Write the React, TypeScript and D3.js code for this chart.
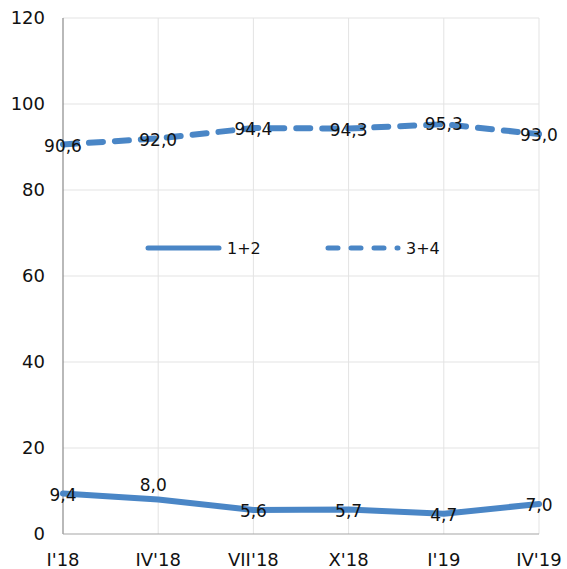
import React from "react";
import * as d3 from "d3";

const categories = ["I'18", "IV'18", "VII'18", "X'18", "I'19", "IV'19"];
const series12 = [9.4, 8.0, 5.6, 5.7, 4.7, 7.0];
const series34 = [90.6, 92.0, 94.4, 94.3, 95.3, 93.0];
const yTicks = [0, 20, 40, 60, 80, 100, 120];
const seriesNames = ["1+2", "3+4"];

const W = 567;
const H = 569;
const COLOR = "#4a86c6";
const SANS = "'DejaVu Sans', Verdana, sans-serif";

export default function App() {
  const x = d3.scalePoint<string>().domain(categories).range([63, 539]);
  const y = d3.scaleLinear().domain([0, 120]).range([534, 18]);
  const line = d3
    .line<number>()
    .x((_, i) => x(categories[i]) as number)
    .y((d) => y(d));

  const fmt = (v: number) => v.toFixed(1).replace(".", ",");
  // label offset tweaks (reference places 8,0 above the line)
  const offs12 = [[0, 1], [-5, -15], [0, 1], [0, 1], [0, 1], [0, 1]];
  const offs34 = [[0, 1], [0, 1], [0, 1], [0, 1], [0, 0], [0, 1]];

  return (
    <svg
      width={W}
      height={H}
      style={{ position: "absolute", left: 0, top: 0, display: "block", background: "#fff" }}
    >
      {/* gridlines */}
      {yTicks.filter((t) => t > 0).map((t) => (
        <line key={"hy" + t} x1={63} x2={539} y1={y(t)} y2={y(t)} stroke="#e3e3e3" strokeWidth={1} />
      ))}
      {categories.slice(1).map((c) => (
        <line key={"vx" + c} x1={x(c)} x2={x(c)} y1={y(120)} y2={y(0)} stroke="#e3e3e3" strokeWidth={1} />
      ))}
      {/* axes */}
      <line x1={63} x2={63} y1={y(120)} y2={y(0)} stroke="#8a8a8a" strokeWidth={1.2} />
      <line x1={63} x2={539} y1={y(0)} y2={y(0)} stroke="#a6a6a6" strokeWidth={1.2} />
      {/* y tick labels */}
      {yTicks.map((t) => (
        <text key={"yt" + t} x={45} y={y(t)} dy="0.36em" textAnchor="end" fontFamily={SANS} fontSize={18} fill="#111">
          {t}
        </text>
      ))}
      {/* x tick labels */}
      {categories.map((c) => (
        <text key={"xt" + c} x={x(c)} y={566} textAnchor="middle" fontFamily={SANS} fontSize={18} fill="#111">
          {c}
        </text>
      ))}
      {/* lines */}
      <path d={line(series34) || ""} fill="none" stroke={COLOR} strokeWidth={6} strokeDasharray="14,12" strokeLinecap="round" strokeLinejoin="round" />
      <path d={line(series12) || ""} fill="none" stroke={COLOR} strokeWidth={6} strokeLinecap="round" strokeLinejoin="round" />
      {/* data labels */}
      {series34.map((v, i) => (
        <text key={"l34" + i} x={(x(categories[i]) as number) + offs34[i][0]} y={y(v) + offs34[i][1]} dy="0.36em" textAnchor="middle" fontFamily={SANS} fontSize={17} fill="#111">
          {fmt(v)}
        </text>
      ))}
      {series12.map((v, i) => (
        <text key={"l12" + i} x={(x(categories[i]) as number) + offs12[i][0]} y={y(v) + offs12[i][1]} dy="0.36em" textAnchor="middle" fontFamily={SANS} fontSize={17} fill="#111">
          {fmt(v)}
        </text>
      ))}
      {/* legend */}
      <line x1={148} x2={219} y1={248} y2={248} stroke={COLOR} strokeWidth={5} strokeLinecap="round" />
      <text x={227} y={248} dy="0.36em" fontFamily={SANS} fontSize={16} fill="#111">{seriesNames[0]}</text>
      <line x1={328} x2={398} y1={248} y2={248} stroke={COLOR} strokeWidth={5} strokeLinecap="round" strokeDasharray="10,13" />
      <text x={406} y={248} dy="0.36em" fontFamily={SANS} fontSize={16} fill="#111">{seriesNames[1]}</text>
    </svg>
  );
}
